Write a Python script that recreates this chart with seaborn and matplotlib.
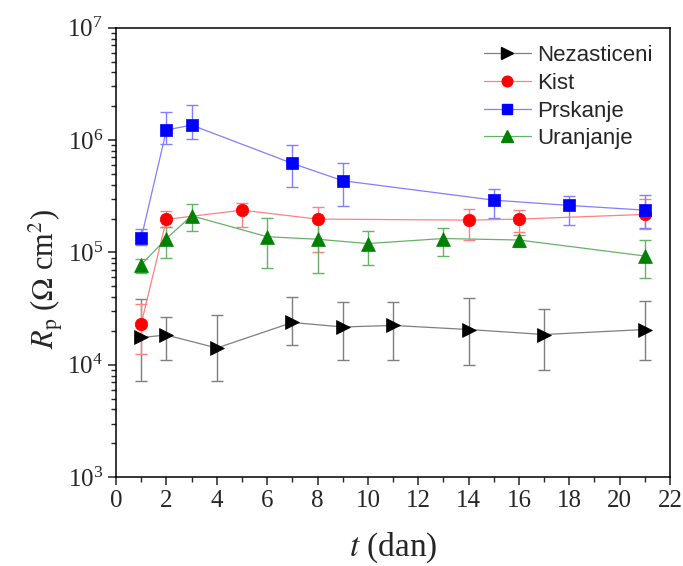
import numpy as np
import pandas as pd
import seaborn as sns
import matplotlib
matplotlib.use("Agg")
import matplotlib.pyplot as plt
from matplotlib.lines import Line2D
from matplotlib.ticker import LogLocator, MultipleLocator, LogFormatterMathtext

# --- data (Rp in Ohm cm^2, t in days) ---
t_nez = [1, 2, 4, 7, 9, 11, 14, 17, 21]
rp_nez = [17500, 18400, 14100, 23800, 21700, 22400, 20600, 18600, 20600]
hi_nez = [38400, 26700, 27600, 39800, 36300, 36300, 39000, 31600, 36900]
lo_nez = [7100, 11000, 7100, 15000, 11000, 11000, 10000, 8900, 11000]

t_kist = [1, 2, 5, 8, 14, 16, 21]
rp_kist = [23300, 197000, 238000, 198000, 194000, 198000, 218000]
hi_kist = [34700, 233000, 276000, 252000, 245000, 238000, 297000]
lo_kist = [12500, 169000, 168000, 100000, 129000, 151000, 163000]

t_prsk = [1, 2, 3, 7, 9, 15, 18, 21]
rp_prsk = [135000, 1230000, 1360000, 620000, 435000, 292000, 262000, 238000]
hi_prsk = [163000, 1790000, 2060000, 910000, 620000, 368000, 316000, 324000]
lo_prsk = [116000, 930000, 1020000, 380000, 260000, 203000, 175000, 164000]

t_uran = [1, 2, 3, 6, 8, 10, 13, 16, 21]
rp_uran = [78000, 133000, 212000, 138000, 131000, 120000, 133000, 129000, 93000]
hi_uran = [87000, 167000, 269000, 203000, 190000, 156000, 164000, 143000, 129000]
lo_uran = [66000, 89500, 155000, 73000, 65000, 77000, 93000, 112000, 59000]

names = ["Nezasticeni", "Kist", "Prskanje", "Uranjanje"]
marker_colors = ["black", "red", "blue", "green"]
line_colors = ["#7f7f7f", "#ff8080", "#7f7fff", "#66b266"]
markers = [">", "o", "s", "^"]
msizes = [10, 9, 8, 10]

series = {
    "Nezasticeni": (t_nez, rp_nez, hi_nez, lo_nez),
    "Kist": (t_kist, rp_kist, hi_kist, lo_kist),
    "Prskanje": (t_prsk, rp_prsk, hi_prsk, lo_prsk),
    "Uranjanje": (t_uran, rp_uran, hi_uran, lo_uran),
}

rows = []
for name, (t, rp, hi, lo) in series.items():
    for a, b, c, d in zip(t, rp, hi, lo):
        rows.append({"t": a, "Rp": b, "hi": c, "lo": d, "group": name})
df = pd.DataFrame(rows)

sns.set_style("ticks")
plt.rcParams["font.family"] = ["Liberation Serif", "DejaVu Serif"]
plt.rcParams["mathtext.fontset"] = "stix"

fig = plt.figure(figsize=(6.83, 5.66), dpi=100)
ax = fig.add_axes([0.170, 0.157, 0.811, 0.794])

for name, mc, lc, mk, ms in zip(names, marker_colors, line_colors, markers, msizes):
    sub = df[df["group"] == name]
    ax.errorbar(sub["t"], sub["Rp"],
                yerr=[sub["Rp"] - sub["lo"], sub["hi"] - sub["Rp"]],
                fmt="none", ecolor=lc, elinewidth=1.0, capsize=4, capthick=1.0, zorder=2)
    sns.lineplot(data=sub, x="t", y="Rp", color=lc, linewidth=0.9, ax=ax,
                 legend=False, zorder=3, estimator=None)
    sns.scatterplot(data=sub, x="t", y="Rp", color=mc, marker=mk, s=ms ** 2,
                    edgecolor=mc, linewidth=0.5, ax=ax, legend=False, zorder=4)

ax.set_yscale("log")
ax.set_xlim(0, 22)
ax.set_ylim(1e3, 1e7)
ax.xaxis.set_major_locator(MultipleLocator(2))
ax.xaxis.set_minor_locator(MultipleLocator(1))
ax.yaxis.set_major_locator(LogLocator(base=10, numticks=10))
ax.yaxis.set_minor_locator(LogLocator(base=10, subs=np.arange(2, 10), numticks=20))
ax.yaxis.set_major_formatter(LogFormatterMathtext())

ax.tick_params(axis="both", which="major", direction="out", length=6, width=1.1,
               labelsize=18, top=False, right=False)
ax.tick_params(axis="both", which="minor", direction="out", length=3.5, width=1.0,
               top=False, right=False)
for s in ax.spines.values():
    s.set_linewidth(1.1)
    s.set_color("black")

ax.set_xlabel(r"$t$ (dan)", fontsize=24, labelpad=13)
ax.set_ylabel(r"$R_{\mathrm{p}}$ ($\Omega$ cm$^2$)", fontsize=22)
ax.yaxis.set_label_coords(-0.092, 0.44)

handles = [Line2D([0], [0], color=lc, lw=0.9, marker=mk, markersize=ms * 0.85,
                  markerfacecolor=mc, markeredgecolor=mc)
           for mc, lc, mk, ms in zip(marker_colors, line_colors, markers, msizes)]
leg = ax.legend(handles, names, loc="upper left", frameon=False, numpoints=1,
                handlelength=2.1, handletextpad=0.3, labelspacing=0.3, borderpad=0,
                borderaxespad=0, prop={"family": "Liberation Sans", "size": 16},
                bbox_to_anchor=(0.664, 0.961))

fig.savefig("out.png", dpi=100)
